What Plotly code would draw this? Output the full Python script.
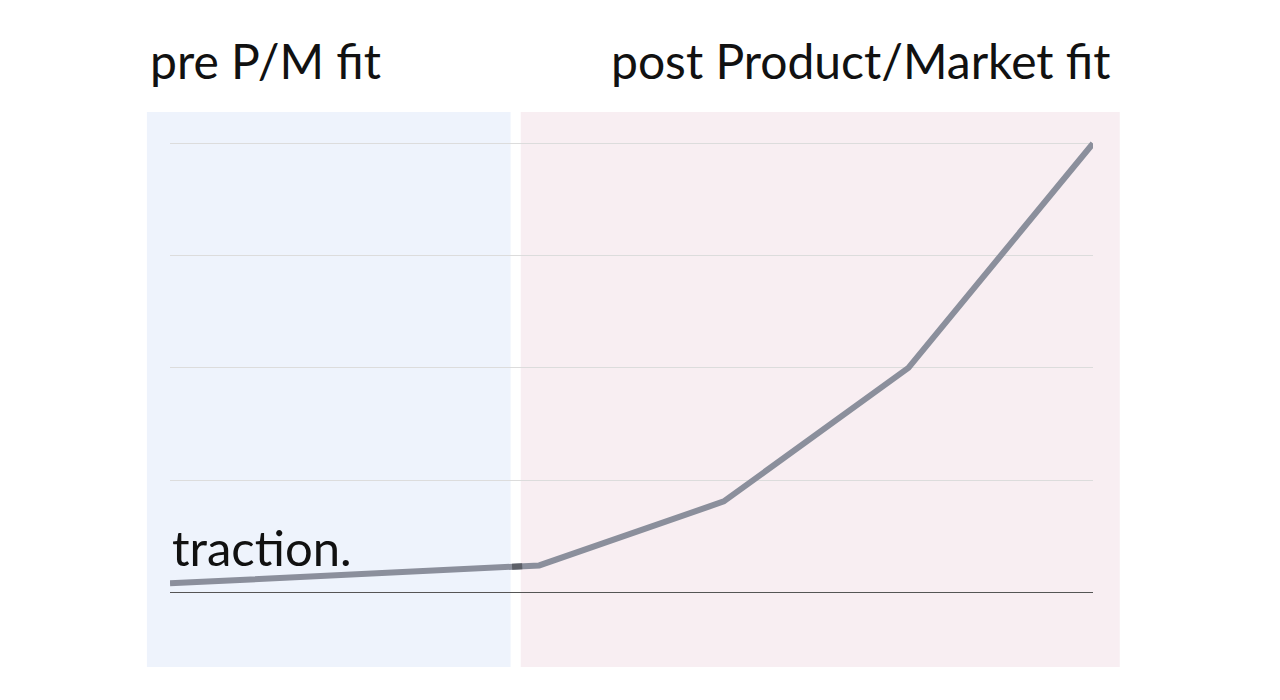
import numpy as np
import plotly.graph_objects as go

# periods and traction values
periods = [0, 2, 3, 4, 5]
traction = [0.08, 0.24, 0.81, 2.0, 4.0]

title_pre = "pre P/M fit"
title_post = "post Product/Market fit"
label = "traction."

FONT = "Lato, 'Open Sans', sans-serif"

fig = go.Figure()

fig.add_trace(go.Scatter(
    x=periods, y=traction, mode="lines",
    line=dict(color="#8b8f9c", width=6),
    hoverinfo="skip", showlegend=False,
))

# darker piece of the line where it crosses the white gap between the two zones
gap = [1.853, 1.908]
fig.add_trace(go.Scatter(
    x=gap, y=np.interp(gap, periods, traction), mode="lines",
    line=dict(color="#5d6068", width=6),
    hoverinfo="skip", showlegend=False,
))

# zone backgrounds (paper coords)
fig.add_shape(type="rect", xref="paper", yref="paper",
              x0=-0.025, x1=0.369, y0=-0.081, y1=1.018,
              fillcolor="#eef3fc", line_width=0, layer="below")
fig.add_shape(type="rect", xref="paper", yref="paper",
              x0=0.380, x1=1.029, y0=-0.081, y1=1.018,
              fillcolor="#f8eef2", line_width=0, layer="below")

fig.add_annotation(text=title_pre, xref="paper", yref="paper",
                   x=-0.024, y=1.119, xanchor="left", yanchor="middle",
                   showarrow=False, font=dict(family=FONT, size=48, color="#111"))
fig.add_annotation(text=title_post, xref="paper", yref="paper",
                   x=1.022, y=1.119, xanchor="right", yanchor="middle",
                   showarrow=False, font=dict(family=FONT, size=48, color="#111"))
fig.add_annotation(text=label, x=0, y=0.40, xanchor="left", yanchor="middle",
                   showarrow=False, font=dict(family=FONT, size=49, color="#111"))

fig.update_xaxes(range=[0, 5], showgrid=False, zeroline=False,
                 showticklabels=False, ticks="")
fig.update_yaxes(range=[-0.3, 4.2], dtick=1, showgrid=True, gridcolor="#dcdcdc",
                 gridwidth=1, zeroline=True, zerolinecolor="#555555", zerolinewidth=1,
                 showticklabels=False, ticks="")

fig.update_layout(
    width=1280, height=700,
    margin=dict(l=162, r=195, t=113, b=82),
    paper_bgcolor="white", plot_bgcolor="rgba(0,0,0,0)",
)

fig.write_html("out.html")
